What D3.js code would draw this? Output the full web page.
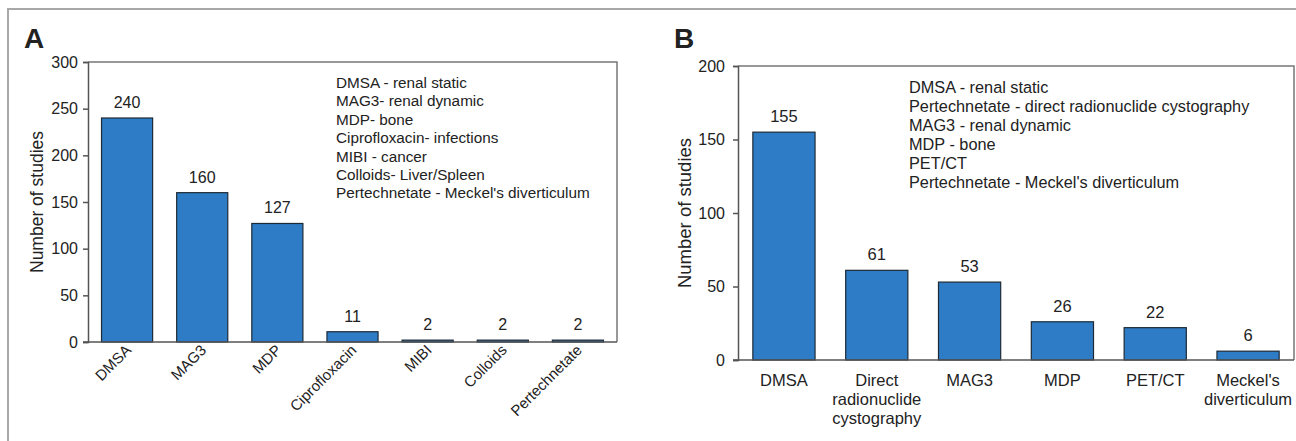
<!DOCTYPE html>
<meta charset="utf-8">
<title>studies</title>
<style>
body { margin: 0; background: #fff; }
text { font-family: "Liberation Sans", Arial, sans-serif; fill: #222; }
</style>
<body>
<script src="https://d3js.org/d3.v7.min.js"></script>
<script>
var width = 1296, height = 441;

// panel A data
var catsA = ["DMSA", "MAG3", "MDP", "Ciprofloxacin", "MIBI", "Colloids", "Pertechnetate"];
var valsA = [240, 160, 127, 11, 2, 2, 2];
var ticksA = [0, 50, 100, 150, 200, 250, 300];
var legendA = ["DMSA - renal static", "MAG3- renal dynamic", "MDP- bone",
  "Ciprofloxacin- infections", "MIBI - cancer", "Colloids- Liver/Spleen",
  "Pertechnetate - Meckel's diverticulum"];

// panel B data
var catsB = ["DMSA", "Direct radionuclide cystography", "MAG3", "MDP", "PET/CT", "Meckel's diverticulum"];
var labelsB = [["DMSA"], ["Direct", "radionuclide", "cystography"], ["MAG3"], ["MDP"], ["PET/CT"], ["Meckel's", "diverticulum"]];
var valsB = [155, 61, 53, 26, 22, 6];
var ticksB = [0, 50, 100, 150, 200];
var legendB = ["DMSA - renal static", "Pertechnetate - direct radionuclide cystography",
  "MAG3 - renal dynamic", "MDP - bone", "PET/CT", "Pertechnetate - Meckel's diverticulum"];

var barFill = "#2e7cc5";

var svg = d3.select("body").append("svg")
    .attr("width", width)
    .attr("height", height);

// outer figure frame
svg.append("path")
    .attr("d", "M8," + (height + 5) + "V9H" + (width + 5))
    .attr("fill", "none")
    .attr("stroke", "#a8a8a8")
    .attr("stroke-width", 2);

function panel(o) {
  var x = d3.scaleBand().domain(o.cats).range([o.left, o.right])
      .paddingInner(o.padIn).paddingOuter(o.padOut);
  var y = d3.scaleLinear().domain([0, o.max]).range([o.bottom, o.top]);
  var g = svg.append("g");

  // plot frame (top + right)
  g.append("path")
      .attr("d", "M" + o.left + "," + o.top + "H" + o.right + "V" + o.bottom)
      .attr("fill", "none")
      .attr("stroke", "#777")
      .attr("stroke-width", 1.5);

  var yAxis = g.append("g")
      .attr("transform", "translate(" + o.left + ",0)")
      .call(d3.axisLeft(y).tickValues(o.ticks).tickSize(o.tickLen).tickPadding(o.tickPad).tickFormat(d3.format("d")));
  yAxis.select(".domain").attr("stroke", "#555").attr("stroke-width", 1.5);
  yAxis.selectAll(".tick line").attr("stroke", "#555").attr("stroke-width", 1.5);
  yAxis.selectAll(".tick text").attr("font-size", o.tickSize).attr("fill", "#222")
      .attr("font-family", "Liberation Sans, Arial, sans-serif");

  g.selectAll("rect.bar")
      .data(o.vals)
    .enter().append("rect")
      .attr("class", "bar")
      .attr("x", function(d, i) { return x(o.cats[i]); })
      .attr("width", x.bandwidth())
      .attr("y", function(d) { return y(d); })
      .attr("height", function(d) { return o.bottom - y(d); })
      .attr("fill", barFill)
      .attr("stroke", "#1d2a36")
      .attr("stroke-width", 1.2);

  // baseline on top of bars
  g.append("line")
      .attr("x1", o.left - o.tickLen).attr("x2", o.right)
      .attr("y1", o.bottom).attr("y2", o.bottom)
      .attr("stroke", "#555").attr("stroke-width", 1.5);

  g.selectAll("text.val")
      .data(o.vals)
    .enter().append("text")
      .attr("class", "val")
      .attr("x", function(d, i) { return x(o.cats[i]) + x.bandwidth() / 2; })
      .attr("y", function(d) { return y(d) - 10; })
      .attr("text-anchor", "middle")
      .attr("font-size", o.valSize)
      .text(function(d) { return d; });

  g.append("text")
      .attr("transform", "translate(" + o.titleX + "," + ((o.top + o.bottom) / 2) + ") rotate(-90)")
      .attr("text-anchor", "middle")
      .attr("font-size", o.titleSize)
      .text("Number of studies");

  g.append("text")
      .attr("x", o.letterX).attr("y", 48)
      .attr("font-size", 28).attr("font-weight", "bold")
      .attr("fill", "#111")
      .text(o.letter);

  g.selectAll("text.leg")
      .data(o.legend)
    .enter().append("text")
      .attr("class", "leg")
      .attr("x", o.legX)
      .attr("y", function(d, i) { return o.legY + i * o.legStep; })
      .attr("font-size", o.legSize)
      .text(function(d) { return d; });

  return { x: x, g: g };
}

var a = panel({
  cats: catsA, vals: valsA, ticks: ticksA, max: 300, legend: legendA,
  left: 88, right: 617, top: 62, bottom: 342, padIn: 0.32, padOut: 0.18,
  tickLen: 5, tickPad: 5,
  tickSize: 16, valSize: 16, titleSize: 17.5, titleX: 43,
  letter: "A", letterX: 24,
  legX: 336, legY: 88, legStep: 18.4, legSize: 15.3
});

a.g.selectAll("text.cat")
    .data(catsA)
  .enter().append("text")
    .attr("class", "cat")
    .attr("transform", function(d) {
      return "translate(" + (a.x(d) + a.x.bandwidth() / 2 + 5) + ",351) rotate(-45)";
    })
    .attr("text-anchor", "end")
    .attr("font-size", 15)
    .text(function(d) { return d; });

var b = panel({
  cats: catsB, vals: valsB, ticks: ticksB, max: 200, legend: legendB,
  left: 738, right: 1294, top: 66, bottom: 360, padIn: 0.33, padOut: 0.16,
  tickLen: 5, tickPad: 8,
  tickSize: 16, valSize: 16.5, titleSize: 18.5, titleX: 691,
  letter: "B", letterX: 674,
  legX: 909, legY: 93, legStep: 19, legSize: 16.3
});

b.g.selectAll("text.cat")
    .data(catsB)
  .enter().append("text")
    .attr("class", "cat")
    .attr("x", function(d) { return b.x(d) + b.x.bandwidth() / 2; })
    .attr("y", 386)
    .attr("text-anchor", "middle")
    .attr("font-size", 16.5)
    .each(function(d, i) {
      var t = d3.select(this);
      labelsB[i].forEach(function(line, j) {
        t.append("tspan")
            .attr("x", b.x(d) + b.x.bandwidth() / 2)
            .attr("dy", j === 0 ? 0 : 19)
            .text(line);
      });
    });
</script>
